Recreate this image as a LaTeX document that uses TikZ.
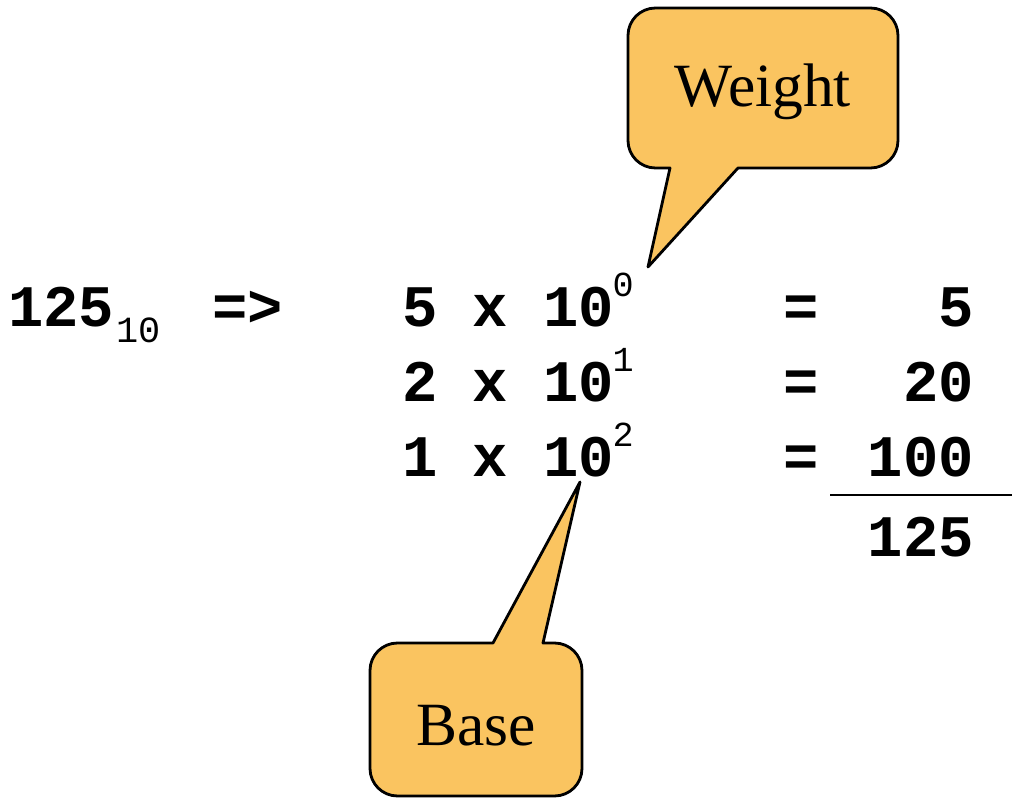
\documentclass[tikz,border=0pt]{standalone}
\usepackage{fontspec}
\usepackage{tikz}
\usetikzlibrary{positioning}

\newfontfamily\digitfont{Liberation Mono}
\newfontfamily\bubblefont{Liberation Serif}
\definecolor{bubbleorange}{RGB}{250,196,96}

\newcommand{\upexp}[1]{\kern-1pt\raisebox{0.5em}{\fontsize{20}{20}\mdseries\selectfont #1}}
\newcommand{\downexp}[1]{\kern1pt\raisebox{-0.28em}{\fontsize{21}{20}\mdseries\selectfont #1}}

\begin{document}
\begin{tikzpicture}[
    x=0.02cm, y=-0.02cm,
    digits/.style={inner sep=0pt, font=\digitfont\bfseries\fontsize{33.5}{40}\selectfont},
    bubble/.style={draw=black, line width=1.6pt, fill=bubbleorange, line join=round},
    bubbletext/.style={inner sep=0pt, font=\bubblefont\fontsize{35}{40}\selectfont}
]
\useasboundingbox (0,0) rectangle (1012,801);

% Number and arrow
\node[digits, anchor=base west] (num) at (8,326) {125\downexp{10}};
\node[digits, anchor=base west] (imp) at (212,326) {=>};

% Terms
\node[digits, anchor=base west] (t0) at (402,326) {5 x 10\upexp{0}};
\node[digits, anchor=base west] (t1) at (402,401) {2 x 10\upexp{1}};
\node[digits, anchor=base west] (t2) at (402,476) {1 x 10\upexp{2}};

\node[digits, anchor=base west] (eq0) at (783,326) {=};
\node[digits, anchor=base west] (eq1) at (783,401) {=};
\node[digits, anchor=base west] (eq2) at (783,476) {=};

\node[digits, anchor=base east] (v0) at (974,326) {5};
\node[digits, anchor=base east] (v1) at (974,401) {20};
\node[digits, anchor=base east] (v2) at (974,476) {100};

% Sum
\coordinate (lineL) at (830,495);
\coordinate (lineR) at (1012,495);
\draw[line width=1.6pt] (lineL) -- (lineR);
\node[digits, anchor=base east] (sum) at (974,556) {125};

% Callouts
\coordinate (wtip) at (648,267);
\draw[bubble] (670,168) -- (wtip) -- (738,168)
    {[rounded corners=0.55cm] -- (898,168) -- (898,8) -- (628,8) -- (628,168)} -- cycle;
\node[bubbletext] (weight) at (763,92) {Weight};

\coordinate (btip) at (580,482);
\draw[bubble] (543,643) -- (btip) -- (493,643)
    {[rounded corners=0.55cm] -- (370,643) -- (370,796) -- (582,796) -- (582,643)} -- cycle;
\node[bubbletext] (base) at (476,726) {Base};

\end{tikzpicture}
\end{document}
